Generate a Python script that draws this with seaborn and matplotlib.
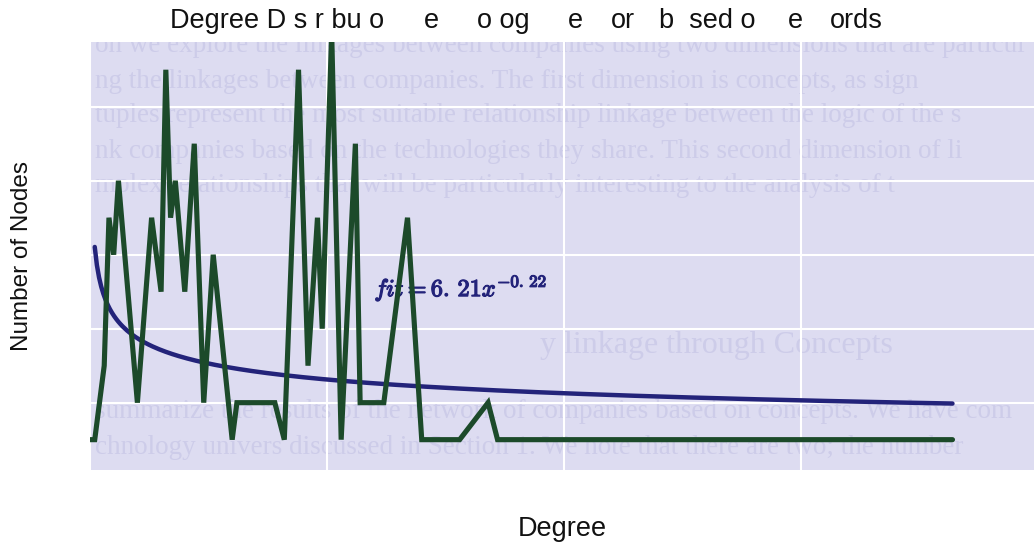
import numpy as np
import pandas as pd
import matplotlib
matplotlib.use("Agg")
import matplotlib.pyplot as plt
import matplotlib.patheffects as pe
import seaborn as sns

# Degree distribution (degree -> number of nodes)
degree = [0, 1, 3, 4, 5, 6, 10, 13, 15, 16, 17, 18, 20, 22, 24, 26, 30, 31,
          39, 41, 44, 46, 48, 49, 51, 53, 56, 57, 62, 67, 70, 78, 84, 86, 182]
num_nodes = [1, 1, 3, 7, 6, 8, 2, 7, 5, 11, 7, 8, 5, 9, 2, 6, 1, 2,
             2, 1, 11, 3, 7, 4, 12, 1, 9, 2, 2, 7, 1, 1, 2, 1, 1]

# Power-law fit: fit = a * x^b
fit_a = 6.21
fit_b = -0.22

# Title as printed (pieces with their left positions in pixels)
title_parts = ["Degree D s r bu o", "e", "o og", "e", "or", "b  sed o", "e", "ords"]
title_x = [170, 424, 477, 568, 611, 659, 788, 830]

# Faint show-through text from the facing page
page_lines = [
    "on we explore the linkages between companies using two dimensions that are particul",
    "ng the linkages between companies. The first dimension is concepts, as sign",
    "tuples represent the most suitable relationship linkage between the logic of the s",
    "nk companies based on the technologies they share. This second dimension of li",
    "mplex relationships that will be particularly interesting to the analysis of t",
    "summarize the results of the network of companies based on concepts. We have com",
    "chnology univers discussed in Section 1. We note that there are two; the number",
]
page_y = [46, 81, 116, 151, 186, 412, 447]
page_heading = "y linkage through Concepts"

sns.set_theme(style="darkgrid")
plt.rcParams["font.family"] = ["Liberation Sans", "DejaVu Sans"]
plt.rcParams["mathtext.fontset"] = "cm"

W, H = 1034, 543
fig = plt.figure(figsize=(W / 100, H / 100), dpi=100)
ax = fig.add_axes([90 / W, 1 - 470 / H, 944 / W, 428 / H])
ax.set_facecolor("#dddcf1")
for s in ax.spines.values():
    s.set_visible(False)

# show-through page text, clipped to the plotting area
for line, yy in zip(page_lines, page_y):
    ax.text(95 / W, 1 - yy / H, line, transform=fig.transFigure, clip_on=True,
            fontsize=19.5, family="Liberation Serif", color="#cdcce9",
            va="center", ha="left", zorder=0.5)
ax.text(540 / W, 1 - 346 / H, page_heading, transform=fig.transFigure, clip_on=True,
        fontsize=23, family="Liberation Serif", color="#cdcce9",
        va="center", ha="left", zorder=0.5)

df = pd.DataFrame({"Degree": degree, "Nodes": num_nodes})
xs = np.linspace(1, degree[-1], 400)
fit_df = pd.DataFrame({"Degree": xs, "Fit": fit_a * xs ** fit_b})

sns.lineplot(data=fit_df, x="Degree", y="Fit", ax=ax, color="#23237a",
             linewidth=3.2, solid_capstyle="round", zorder=3)
a_int, a_frac = ("%.2f" % fit_a).split(".")
b_int, b_frac = ("%.2f" % fit_b).split(".")
fit_label = r"$\mathit{fit} = %s.\,%s x^{%s.\,%s}$" % (a_int, a_frac, b_int, b_frac)
ax.text(60, 5.1, fit_label, color="#23237a", fontsize=17.5,
        va="center", ha="left", zorder=3.5,
        path_effects=[pe.withStroke(linewidth=0.9, foreground="#23237a")])
sns.lineplot(data=df, x="Degree", y="Nodes", ax=ax, color="#1c4a2a",
             linewidth=3.7, solid_capstyle="round", solid_joinstyle="miter",
             zorder=4)

ax.set_xlim(0, 199.2)
ax.set_ylim(0.18, 11.75)
ax.set_xticks([0, 50, 100, 150])
ax.set_yticks([2, 4, 6, 8, 10])
ax.set_xticklabels([])
ax.set_yticklabels([])
ax.tick_params(length=0)
ax.grid(True, color="white", linewidth=1.5)

ax.set_xlabel("Degree", fontsize=19.5, color="#111111")
ax.set_ylabel("Number of Nodes", fontsize=17.5, color="#111111")
ax.xaxis.set_label_coords(0.5, -(516 - 470) / 428)
ax.yaxis.set_label_coords(-(90 - 33) / 944, 0.5)

for part, px in zip(title_parts, title_x):
    fig.text(px / W, 1 - 21 / H, part, fontsize=19.5, color="#111111",
             ha="left", va="center")

fig.savefig("out.png", dpi=100)
